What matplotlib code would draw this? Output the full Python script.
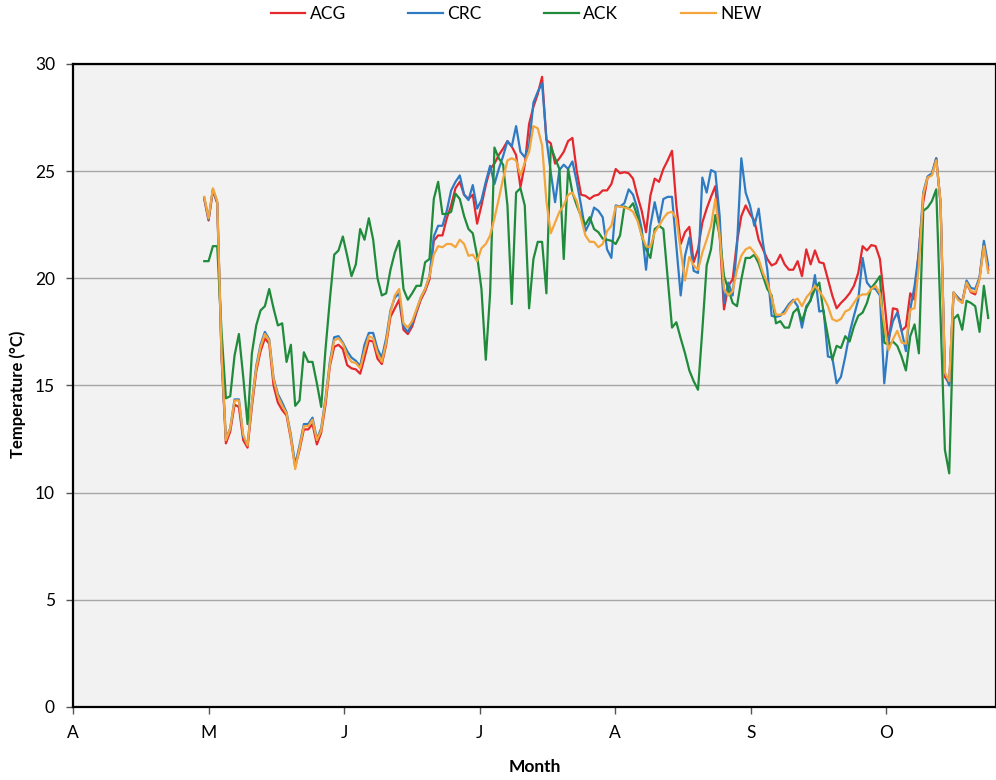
"""Daily mean water temperature at four sites, May to October."""
import matplotlib

matplotlib.use("Agg")
import matplotlib.pyplot as plt
import numpy as np

plt.rcParams["font.family"] = ["Lato", "DejaVu Sans"]

MONTH_LABELS = ["A", "M", "J", "J", "A", "S", "O"]
SITES = ["ACG", "CRC", "ACK", "NEW"]
COLORS = {"ACG": "#E4282E", "CRC": "#2E7BC4", "ACK": "#1F8B3B", "NEW": "#F4A53C"}

acg = [
    23.7, 22.7, 24.1, 23.5, 16.3, 12.3, 12.85, 14.1, 14.0, 12.45,
    12.1, 14.0, 15.65, 16.6, 17.2, 16.95, 15.0, 14.2, 13.85, 13.6,
    12.5, 11.2, 12.0, 12.95, 12.95, 13.2, 12.25, 12.8, 14.1, 15.9,
    16.8, 16.9, 16.7, 15.95, 15.8, 15.75, 15.55, 16.3, 17.1, 17.05,
    16.25, 16.0, 16.9, 18.2, 18.6,
    19.0, 17.6, 17.4, 17.75, 18.4, 19.0, 19.4, 19.95, 21.75, 22.0,
    22.0, 22.8, 23.4, 24.2, 24.5, 23.9, 23.7, 23.9, 22.55, 23.4,
    24.35, 25.1, 25.35, 25.75, 26.05, 26.4, 26.15, 25.75, 24.25, 25.3,
    27.2, 28.0, 28.6, 29.4, 26.45, 26.3, 25.35, 25.6, 25.9, 26.4,
    26.55, 25.0, 23.9, 23.85, 23.7,
    23.85, 23.9, 24.1, 24.1, 24.4, 25.1, 24.9, 24.95, 24.9, 24.65,
    23.85, 23.15, 22.15, 23.85, 24.65, 24.5, 25.1, 25.5, 25.95, 23.4,
    21.6, 22.15, 22.4, 20.75, 21.35, 22.6, 23.25, 23.8, 24.3, 22.0,
    18.55, 19.65, 19.95, 21.7, 22.9, 23.4, 23.0, 22.7, 21.8, 21.35,
    20.9, 20.6, 20.7, 21.1, 20.65, 20.4,
    20.4, 20.8, 20.1, 21.35, 20.65, 21.3, 20.75, 20.7, 19.95, 19.2,
    18.6, 18.85, 19.05, 19.3, 19.65, 20.25, 21.5, 21.3, 21.55, 21.5,
    20.9, 19.0, 17.0, 18.6, 18.55, 17.55, 17.75, 19.3, 19.0, 21.35,
    23.55, 24.7, 24.85, 25.6, 23.5, 15.4, 15.1, 19.3, 19.1, 18.9,
    19.8, 19.35, 19.25, 20.0, 21.6, 20.4,
]

crc = [
    23.75, 22.75, 24.15, 23.55, 16.4, 12.5, 13.0, 14.35, 14.35, 12.6,
    12.25, 14.2, 15.9, 16.9, 17.5, 17.15, 15.35, 14.6, 14.2, 13.75,
    12.7, 11.3, 12.2, 13.2, 13.2, 13.5, 12.5, 13.0, 14.4, 16.1,
    17.25, 17.3, 17.0, 16.6, 16.3, 16.15, 15.9, 16.9, 17.45, 17.45,
    16.7, 16.3, 17.2, 18.5, 19.1,
    19.3, 17.75, 17.5, 17.9, 18.5, 19.1, 19.5, 20.1, 21.95, 22.45,
    22.45, 23.15, 24.1, 24.5, 24.8, 23.9, 23.65, 24.35, 23.25, 23.65,
    24.5, 25.25, 24.4, 25.1, 25.7, 26.4, 26.15, 27.1, 25.9, 25.65,
    26.2, 28.2, 28.7, 29.1, 26.5, 24.95, 23.55, 25.05, 25.3, 25.1,
    25.45, 24.5, 23.4, 22.2, 22.6,
    23.3, 23.15, 22.85, 21.35, 20.95, 23.4, 23.35, 23.5, 24.15, 23.9,
    23.25, 22.3, 20.4, 22.45, 23.55, 22.6, 23.7, 23.8, 23.8, 21.5,
    19.2, 21.05, 21.9, 20.35, 20.25, 24.7, 24.0, 25.05, 24.95, 22.9,
    18.85, 19.8, 19.2, 21.5, 25.6, 24.0, 23.4, 22.45, 23.25, 21.65,
    20.4, 18.25, 18.2, 18.25, 18.5, 18.8,
    19.0, 18.7, 17.7, 18.7, 18.95, 20.15, 18.45, 18.5, 16.35, 16.3,
    15.1, 15.4, 16.35, 17.45, 18.25, 19.0, 20.95, 19.8, 19.55, 19.5,
    19.2, 15.1, 17.15, 18.0, 18.4, 17.55, 16.6, 18.55, 19.65, 21.2,
    24.0, 24.75, 24.9, 25.6, 23.5, 15.6, 15.0, 19.35, 19.1, 18.85,
    19.9, 19.55, 19.5, 20.05, 21.75, 20.6,
]

ack = [
    20.8, 20.8, 21.5, 21.5, 17.5, 14.4, 14.5, 16.4, 17.4, 15.4,
    13.2, 16.5, 17.8, 18.5, 18.7, 19.5, 18.6, 17.8, 17.9, 16.1,
    16.9, 14.05, 14.3, 16.55, 16.1, 16.1, 15.1, 14.0, 16.7, 19.0,
    21.1, 21.3, 21.95, 21.05, 20.1, 20.65, 22.3, 21.8, 22.8, 21.8,
    20.0, 19.2, 19.3, 20.4, 21.2,
    21.75, 19.5, 19.0, 19.3, 19.65, 19.65, 20.75, 20.9, 23.7, 24.5,
    23.0, 23.0, 23.1, 23.95, 23.7, 22.9, 22.3, 22.1, 21.05, 19.5,
    16.2, 19.3, 26.1, 25.6, 25.3, 23.4, 18.8, 24.0, 24.2, 23.4,
    18.6, 20.9, 21.7, 21.7, 19.3, 26.15, 25.6, 25.1, 20.9, 25.1,
    24.0, 23.4, 22.9, 22.5, 22.85,
    22.3, 22.15, 21.85, 21.8, 21.75, 21.6, 22.0, 23.35, 23.25, 23.5,
    22.9, 22.0, 21.35, 20.95, 22.3, 22.45, 22.3, 20.0, 17.7, 17.95,
    17.2, 16.5, 15.7, 15.2, 14.8, 17.6, 20.6, 21.35, 22.95, 22.0,
    20.1, 19.5, 18.85, 18.7, 19.95, 20.95, 20.95, 21.1, 20.7, 20.1,
    19.5, 19.2, 17.9, 18.0, 17.7, 17.7,
    18.4, 18.6, 18.0, 18.6, 19.0, 19.5, 19.8, 18.4, 17.3, 16.2,
    16.85, 16.75, 17.3, 17.05, 17.75, 18.25, 18.4, 18.85, 19.55, 19.8,
    20.1, 17.0, 16.9, 17.05, 16.85, 16.35, 15.7, 17.3, 17.85, 16.5,
    23.15, 23.3, 23.6, 24.15, 18.2, 12.0, 10.9, 18.1, 18.3, 17.6,
    18.95, 18.85, 18.7, 17.5, 19.65, 18.15,
]

new = [
    23.8, 22.8, 24.2, 23.6, 16.5, 12.45, 13.0, 14.3, 14.3, 12.7,
    12.2, 14.2, 15.8, 16.8, 17.4, 17.1, 15.3, 14.5, 14.05, 13.7,
    12.6, 11.1, 12.1, 13.1, 13.1, 13.4, 12.45, 12.9, 14.3, 16.0,
    17.1, 17.2, 16.95, 16.4, 16.1, 16.05, 15.8, 16.6, 17.3, 17.2,
    16.5, 16.1, 17.0, 18.4, 19.2,
    19.5, 17.9, 17.7, 18.0, 18.55, 19.1, 19.5, 20.1, 21.1, 21.5,
    21.45, 21.6, 21.6, 21.45, 21.8, 21.6, 21.05, 21.1, 20.8, 21.4,
    21.6, 22.0, 22.8, 23.7, 24.65, 25.5, 25.6, 25.5, 24.8, 25.4,
    25.9, 27.1, 27.0, 26.2, 23.6, 22.1, 22.6, 23.1, 23.4, 23.9,
    24.0, 23.6, 22.8, 22.0, 21.7,
    21.7, 21.45, 21.6, 22.2, 22.45, 23.35, 23.35, 23.3, 23.25, 23.1,
    22.7, 22.0, 21.5, 21.45, 22.15, 22.45, 22.8, 23.05, 23.1, 22.8,
    21.3, 19.9, 21.0, 20.6, 20.4, 21.2, 21.8, 22.45, 23.7, 22.0,
    19.5, 19.2, 19.4, 20.4, 21.05, 21.35, 21.45, 21.2, 20.9, 20.25,
    19.8, 19.1, 18.3, 18.3, 18.35, 18.7,
    18.95, 19.05, 18.7, 19.1, 19.35, 19.65, 19.4, 19.1, 18.7, 18.1,
    18.0, 18.1, 18.45, 18.55, 18.85, 19.15, 19.25, 19.25, 19.5, 19.65,
    19.3, 17.8, 16.65, 17.15, 17.55, 17.0, 16.95, 18.55, 18.6, 20.6,
    23.9, 24.7, 24.8, 25.5, 23.6, 15.6, 15.2, 19.35, 19.0, 18.85,
    19.8, 19.4, 19.35, 19.95, 21.5, 20.25,
]


def main():
    series = {"ACG": acg, "CRC": crc, "ACK": ack, "NEW": new}
    day = np.arange(len(acg))

    fig = plt.figure(figsize=(9.96, 7.8), dpi=100)
    ax = fig.add_axes([0.0733, 0.0936, 0.9267, 0.8244])
    ax.set_facecolor("#F2F2F2")

    for name in SITES:
        ax.plot(day, series[name], color=COLORS[name], lw=1.6, label=name)

    # month ticks sit ~31.3 samples apart on this axis
    month_pos = -30.3 + 31.3 * np.arange(len(MONTH_LABELS))
    ax.set_xticks(month_pos)
    ax.set_xticklabels(MONTH_LABELS)
    ax.set_xlim(month_pos[0], 182.8)
    ax.set_ylim(0, 30)
    ax.set_yticks(np.arange(0, 31, 5))
    ax.yaxis.grid(True, color="#A6A6A6", lw=1.0)
    ax.set_axisbelow(True)
    for side in ["left", "bottom", "top", "right"]:
        ax.spines[side].set_color("black")
        ax.spines[side].set_linewidth(1.6)
    ax.tick_params(axis="both", labelsize=12.5, length=5, width=1,
                   color="#555555", pad=8)

    fig.text(0.018, 0.495, "Temperature (°C)", rotation=90, ha="center",
             va="center", fontsize=12, fontweight="bold")
    fig.text(0.537, 0.0167, "Month", ha="center", va="center",
             fontsize=12.5, fontweight="bold")

    fig.legend(loc="center", bbox_to_anchor=(0.518, 0.982), ncol=4,
               frameon=False, fontsize=12.5, handlelength=2.0,
               columnspacing=3.6, handletextpad=0.25)

    fig.savefig("out.png", dpi=100)
    plt.close(fig)


if __name__ == "__main__":
    main()
